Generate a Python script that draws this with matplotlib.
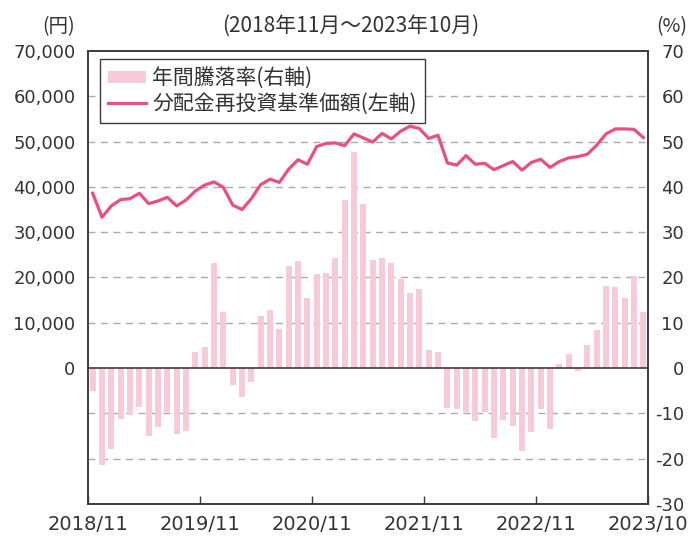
import matplotlib.pyplot as plt
import numpy as np
from matplotlib.ticker import FixedLocator, FuncFormatter

plt.rcParams["font.family"] = ["Noto Sans CJK JP", "DejaVu Sans"]

# monthly data 2018/11 - 2023/10
nav = [
    38600, 33300, 35800, 37200, 37400, 38600, 36300, 36900, 37700, 35800, 37100, 39100,
    40400, 41100, 39900, 36000, 35000, 37400, 40500, 41700, 41000, 43900, 46000, 45000,
    48900, 49600, 49700, 49100, 51700, 50800, 49900, 51800, 50600, 52300, 53400, 52900,
    50700, 51400, 45300, 44800, 46900, 45000, 45200, 43800, 44700, 45600, 43700, 45400,
    46100, 44300, 45600, 46400, 46700, 47200, 49200, 51700, 52800, 52800, 52700, 50900,
]
annual_return = [
    -5.1, -21.4, -17.9, -11.3, -10.4, -8.6, -15.0, -13.0, -9.7, -14.6, -13.9, 3.5,
    4.6, 23.2, 12.3, -3.8, -6.4, -3.1, 11.6, 12.8, 8.6, 22.5, 23.6, 15.4,
    20.7, 20.9, 24.4, 37.1, 47.6, 36.2, 23.8, 24.2, 23.2, 19.6, 16.5, 17.4,
    3.9, 3.5, -8.9, -9.1, -9.6, -11.7, -9.8, -15.5, -11.5, -12.8, -18.3, -14.1,
    -9.1, -13.5, 0.8, 3.2, -0.7, 5.1, 8.4, 18.1, 17.9, 15.4, 20.3, 12.3,
]
xtick_labels = ["2018/11", "2019/11", "2020/11", "2021/11", "2022/11", "2023/10"]
left_ticks = [0, 10000, 20000, 30000, 40000, 50000, 60000, 70000]
right_ticks = [-30, -20, -10, 0, 10, 20, 30, 40, 50, 60, 70]

bar_color = "#f7cad8"
line_color = "#e8507f"
text_color = "#333333"
spine_color = "#3e3a39"
num_font = ["DejaVu Sans"]

fig = plt.figure(figsize=(6.89, 5.39), dpi=100)
ax = fig.add_axes([88 / 689, 1 - 504 / 539, 560 / 689, 453 / 539])
ax2 = ax.twinx()
ax.set_zorder(ax2.get_zorder() + 1)
ax.patch.set_visible(False)

x = np.arange(len(nav))

# bars on right axis
ax2.bar(x, annual_return, width=0.62, color=bar_color, zorder=2,
        label="年間騰落率(右軸)")
ax2.set_ylim(-30, 70)
ax2.yaxis.set_major_locator(FixedLocator(right_ticks))
ax2.set_yticklabels([str(t) for t in right_ticks])
for t in [-20, -10, 10, 20, 30, 40, 50, 60]:
    ax2.axhline(t, color="#aaaaaa", lw=1.0, ls=(0, (5, 4)), zorder=1)
ax2.axhline(0, color=spine_color, lw=1.2, zorder=3)

# line on left axis
ax.plot(x, nav, color=line_color, lw=2.3, label="分配金再投資基準価額(左軸)")
ax.set_ylim(-30000, 70000)
ax.yaxis.set_major_locator(FixedLocator(left_ticks))
ax.yaxis.set_major_formatter(FuncFormatter(lambda v, p: f"{int(v):,}"))
ax.set_xlim(-0.5, len(nav) - 0.5)
ax.set_xticks([-0.5, 11.5, 23.5, 35.5, 47.5, 59.5])
ax.set_xticklabels(xtick_labels)

for a in (ax, ax2):
    for s in a.spines.values():
        s.set_color(spine_color)
        s.set_linewidth(1.2)

ax.tick_params(axis="y", length=0, pad=9, labelsize=13, labelcolor=text_color)
ax2.tick_params(axis="y", length=0, pad=26, labelsize=13, labelcolor=text_color)
for lab in ax2.get_yticklabels():
    lab.set_horizontalalignment("right")
ax.tick_params(axis="x", direction="in", length=6, width=1, color=spine_color,
               pad=8, labelsize=14, labelcolor=text_color)
ax2.tick_params(axis="x", length=0)
for lab in ax.get_yticklabels() + ax2.get_yticklabels() + ax.get_xticklabels():
    lab.set_family(num_font)

fig.text(59 / 689, 1 - 27 / 539, "(円)", ha="center", va="center",
         fontsize=14, color=text_color)
fig.text(687 / 689, 1 - 27 / 539, "(%)", ha="right", va="center",
         fontsize=14, color=text_color)
fig.text(351 / 689, 1 - 26 / 539, "(2018年11月～2023年10月)", ha="center",
         va="center", fontsize=15, color=text_color)

h1, l1 = ax2.get_legend_handles_labels()
h2, l2 = ax.get_legend_handles_labels()
leg = ax.legend(h1 + h2, l1 + l2, loc="upper left",
                bbox_to_anchor=(100 / 689, 1 - 59 / 539), bbox_transform=fig.transFigure,
                fontsize=15, frameon=True, fancybox=False, framealpha=1,
                edgecolor=spine_color, borderpad=0.4, labelspacing=0.15,
                handlelength=1.8, handleheight=0.55, handletextpad=0.3,
                borderaxespad=0)
leg.get_frame().set_linewidth(1.0)
for t in leg.get_texts():
    t.set_color(text_color)

fig.savefig("out.png", dpi=100)
